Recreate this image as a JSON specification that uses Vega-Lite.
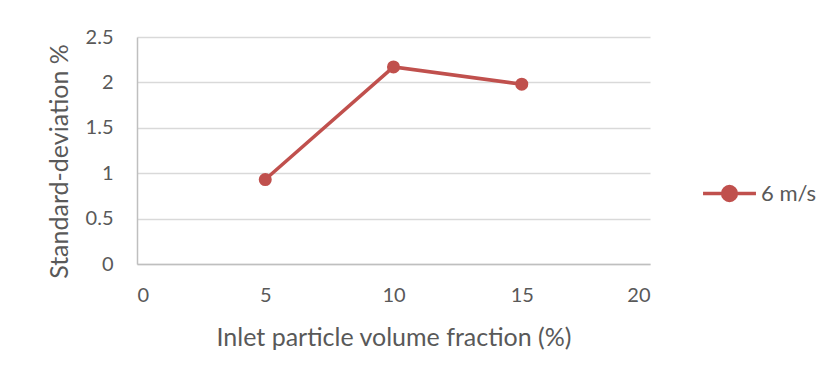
{
  "$schema": "https://vega.github.io/schema/vega-lite/v6.json",
  "width": 513,
  "height": 227,
  "autosize": {"type": "none"},
  "padding": {"left": 137, "top": 37, "right": 182, "bottom": 117},
  "background": "white",
  "config": {
    "font": "Lato",
    "view": {"stroke": null},
    "axis": {
      "labelColor": "#595959",
      "titleColor": "#595959",
      "labelFont": "Lato",
      "titleFont": "Lato",
      "labelFontSize": 20,
      "titleFontSize": 25,
      "titleFontWeight": "normal",
      "gridColor": "#d9d9d9",
      "gridWidth": 1.5,
      "domainColor": "#bfbfbf",
      "domainWidth": 1.5,
      "ticks": false,
      "format": "~g"
    }
  },
  "data": {
    "values": [
      {"x": 5, "y": 0.93, "series": "6 m/s"},
      {"x": 10, "y": 2.17, "series": "6 m/s"},
      {"x": 15, "y": 1.98, "series": "6 m/s"}
    ]
  },
  "layer": [
    {
      "mark": {"type": "line", "strokeWidth": 3.5},
      "encoding": {
        "x": {
          "field": "x", "type": "quantitative",
          "scale": {"domain": [0, 20], "nice": false},
          "axis": {"values": [0, 5, 10, 15, 20], "grid": false, "labelPadding": 21, "title": "Inlet particle volume fraction (%)", "titlePadding": 20}
        },
        "y": {
          "field": "y", "type": "quantitative",
          "scale": {"domain": [0, 2.5], "nice": false},
          "axis": {"values": [0, 0.5, 1, 1.5, 2, 2.5], "labelPadding": 24, "title": "Standard-deviation %", "titlePadding": 13, "titleY": 124, "domain": true}
        },
        "color": {
          "field": "series", "type": "nominal",
          "scale": {"range": ["#c0504d"]},
          "legend": {
            "title": null,
            "orient": "none",
            "legendX": 564,
            "legendY": 128,
            "symbolType": "M-1,0L1,0M-0.26,0A0.26,0.26 0 1,1 0.26,0A0.26,0.26 0 1,1 -0.26,0Z",
            "symbolSize": 2800,
            "symbolStrokeWidth": 3.5,
            "symbolFillColor": "#c0504d",
            "labelFontSize": 22,
            "labelColor": "#595959",
            "labelFont": "Lato",
            "labelOffset": 3
          }
        }
      }
    },
    {
      "mark": {"type": "point", "filled": true, "size": 170, "opacity": 1},
      "encoding": {
        "x": {"field": "x", "type": "quantitative"},
        "y": {"field": "y", "type": "quantitative"},
        "color": {"field": "series", "type": "nominal", "legend": null}
      }
    }
  ]
}
